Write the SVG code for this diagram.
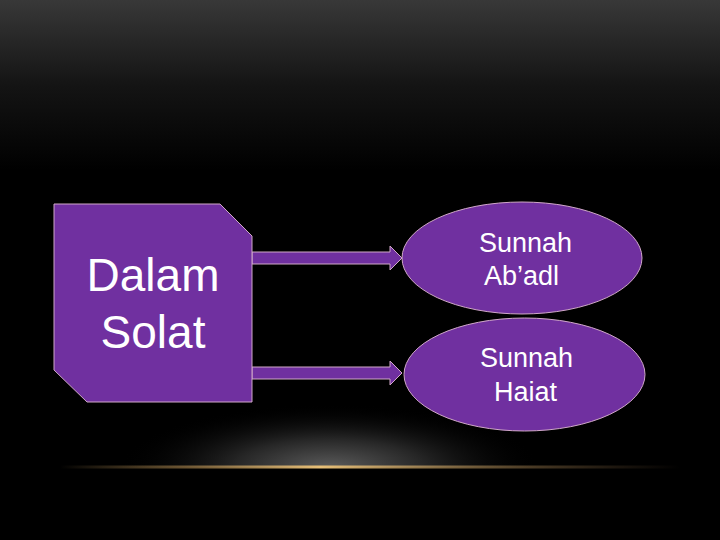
<svg xmlns="http://www.w3.org/2000/svg" width="720" height="540" viewBox="0 0 720 540">
<defs>
<linearGradient id="bgTop" x1="0" y1="0" x2="0" y2="1">
<stop offset="0" stop-color="#383838"/>
<stop offset="0.5" stop-color="#141414"/>
<stop offset="1" stop-color="#000000"/>
</linearGradient>
<radialGradient id="glow" gradientUnits="userSpaceOnUse" cx="330" cy="467" r="210" gradientTransform="translate(330 467) scale(1 0.3) translate(-330 -467)">
<stop offset="0" stop-color="#5a5a5a"/>
<stop offset="0.45" stop-color="#262626"/>
<stop offset="1" stop-color="#000000" stop-opacity="0"/>
</radialGradient>
<linearGradient id="gold" x1="0" y1="0" x2="1" y2="0">
<stop offset="0" stop-color="#c8a060" stop-opacity="0"/>
<stop offset="0.2" stop-color="#b08a50" stop-opacity="0.6"/>
<stop offset="0.42" stop-color="#e8c078"/>
<stop offset="0.7" stop-color="#a08050" stop-opacity="0.6"/>
<stop offset="1" stop-color="#806040" stop-opacity="0"/>
</linearGradient>
<clipPath id="aboveLine"><rect x="0" y="300" width="720" height="167"/></clipPath>
</defs>
<style>
.node{fill:#7030a0;stroke:#d0a8c8;stroke-width:1}
.arrow{fill:#7030a0;stroke:#d0a8c8;stroke-width:1}
.lbl{fill:#ffffff;font-family:"Liberation Sans",Arial,sans-serif}
</style>
<rect width="720" height="540" fill="#000"/>
<rect width="720" height="170" fill="url(#bgTop)"/>
<g clip-path="url(#aboveLine)">
<rect x="100" y="390" width="460" height="77" fill="url(#glow)"/>
</g>
<rect x="60" y="465.5" width="620" height="3" fill="url(#gold)"/>

<g id="connectors">
<polygon class="arrow" points="252,252 390,252 390,246 402,258 390,270 390,264 252,264"/>
<polygon class="arrow" points="252,367 390,367 390,361 402,373 390,385 390,379 252,379"/>
</g>

<g id="node-dalam-solat">
<polygon class="node" points="54,204 220,204 252,236 252,402 87,402 54,370"/>
<text class="lbl" font-size="46" text-anchor="middle" x="153" y="291">Dalam</text>
<text class="lbl" font-size="46" text-anchor="middle" x="153" y="348">Solat</text>
</g>

<g id="node-sunnah-abadl">
<ellipse class="node" cx="522" cy="258" rx="120" ry="56"/>
<text class="lbl" font-size="27" text-anchor="middle" x="525.5" y="252">Sunnah</text>
<text class="lbl" font-size="27" text-anchor="middle" x="521.5" y="285">Ab’adl</text>
</g>

<g id="node-sunnah-haiat">
<ellipse class="node" cx="524.5" cy="374.5" rx="120.5" ry="56.5"/>
<text class="lbl" font-size="27" text-anchor="middle" x="526.5" y="367">Sunnah</text>
<text class="lbl" font-size="27" text-anchor="middle" x="525.5" y="401">Haiat</text>
</g>
</svg>
